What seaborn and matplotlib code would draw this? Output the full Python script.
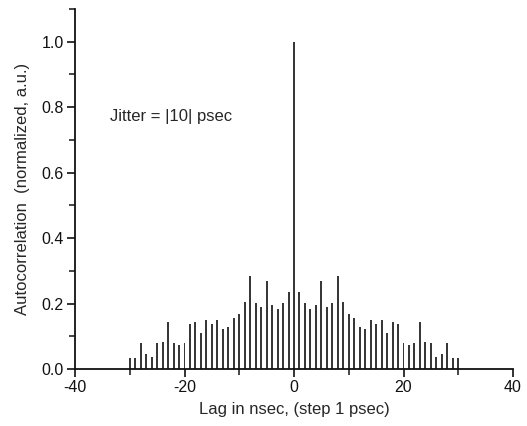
import matplotlib
matplotlib.use("Agg")
import matplotlib.pyplot as plt
import seaborn as sns
import numpy as np
import pandas as pd
from matplotlib.ticker import MultipleLocator

lags = list(range(-30, 31))
right_half = [0.234, 0.201, 0.183, 0.195, 0.268, 0.190, 0.201, 0.284, 0.206, 0.167,
              0.155, 0.127, 0.121, 0.149, 0.139, 0.149, 0.111, 0.145, 0.139, 0.078,
              0.072, 0.078, 0.145, 0.083, 0.079, 0.038, 0.045, 0.079, 0.033, 0.033]
left_half = right_half[::-1]
center = [1.0]
values = left_half + center + right_half

x_ticks = [-40, -20, 0, 20, 40]
y_ticks = [0.0, 0.2, 0.4, 0.6, 0.8, 1.0]
x_label = "Lag in nsec, (step 1 psec)"
y_label = "Autocorrelation  (normalized, a.u.)"
annotation = "Jitter = |10| psec"

sns.set_style("ticks")
plt.rcParams['font.family'] = ['Liberation Sans', 'DejaVu Sans']

df = pd.DataFrame({"lag": lags, "value": values})

fig = plt.figure(figsize=(5.27, 4.26), dpi=100)
ax = fig.add_axes([75/527, 1-369/426, (513-75)/527, 360/426])

sns.barplot(data=df, x="lag", y="value", native_scale=True, width=0.36,
            color="#383838", saturation=1, linewidth=0, ax=ax)

ax.set_xlim(-40, 40)
ax.set_ylim(0, 1.1)
ax.set_xticks(x_ticks)
ax.set_yticks(y_ticks)
ax.set_xticklabels([str(t) for t in x_ticks])
ax.set_yticklabels([f"{t:.1f}" for t in y_ticks])
ax.xaxis.set_minor_locator(MultipleLocator(10))
ax.yaxis.set_minor_locator(MultipleLocator(0.1))
ax.tick_params(which="major", direction="out", length=6, width=1.2, labelsize=11.5,
               colors="#111111", pad=2)
ax.tick_params(which="minor", direction="out", length=4, width=1.2)
ax.set_xlabel(x_label, fontsize=12, labelpad=5)
ax.set_ylabel(y_label, fontsize=12, labelpad=8)
sns.despine(ax=ax)
for s in ["left", "bottom"]:
    ax.spines[s].set_linewidth(1.3)
    ax.spines[s].set_color("#111111")

ax.text(-33.6, 0.773, annotation, fontsize=12, va="center", ha="left")

fig.savefig("out.png", dpi=100)
